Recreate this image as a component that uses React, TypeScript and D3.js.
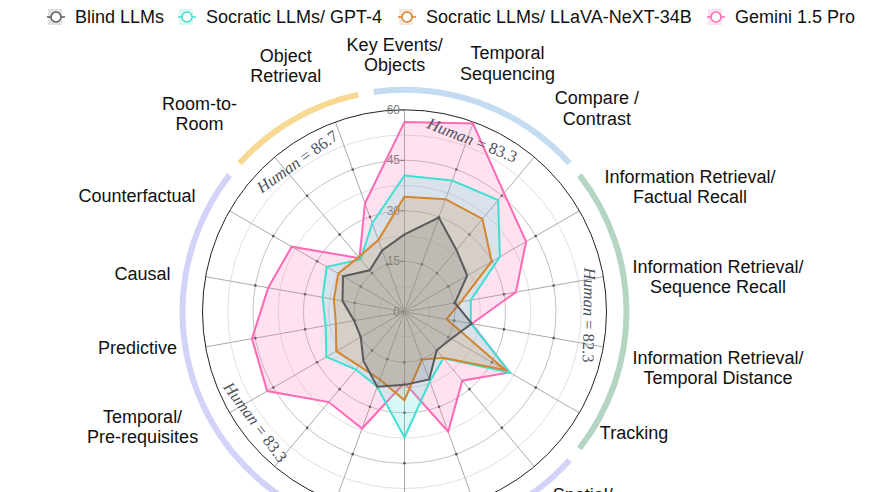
import React from 'react';
import * as d3 from 'd3';

// ---------- data ----------
const categories: string[] = [
  'Key Events/\nObjects',
  'Temporal\nSequencing',
  'Compare /\nContrast',
  'Information Retrieval/\nFactual Recall',
  'Information Retrieval/\nSequence Recall',
  'Information Retrieval/\nTemporal Distance',
  'Tracking',
  'Spatial/\nRelationship',
  'Spatial/\nProximity',
  'Spatial/\nLayout',
  'Temporal/\nDuration',
  'Temporal/\nFrequency',
  'Temporal/\nPre-requisites',
  'Predictive',
  'Causal',
  'Counterfactual',
  'Room-to-\nRoom',
  'Object\nRetrieval',
];

const seriesNames = ['Blind LLMs', 'Socratic LLMs/ GPT-4', 'Socratic LLMs/ LLaVA-NeXT-34B', 'Gemini 1.5 Pro'];

const blindLLMs = [23, 29.8, 24, 21.5, 15.2, 20.3, 16, 14.9, 21.4, 21.7, 23.7, 19, 15, 15.2, 18.7, 21.1, 16.1, 19.4];
const socraticGPT4 = [40.5, 41.5, 43.3, 32.7, 20.0, 20.0, 36.2, 18.0, 22, 37.3, 23.7, 22.4, 26.8, 23.8, 24.7, 26.7, 20.3, 28];
const socraticLLaVA = [34.2, 35.6, 36.0, 29.9, 17, 12.7, 34.5, 17.8, 15.1, 26.3, 21.4, 21, 23.4, 20.7, 21.3, 22.7, 21.2, 22.7];
const gemini15Pro = [56.4, 59.5, 46, 41.7, 33.6, 20.3, 36.0, 26.7, 37.9, 21.1, 36.9, 35.0, 47.1, 46.0, 41.1, 38.7, 20.8, 34.3];

const radialTicks = [0, 15, 30, 45, 60];
const gridLevels = [7.5, 15, 22.5, 30, 37.5, 45, 52.5];

// task groups (first / last category index) with human scores
const groupFirst = [0, 3, 7, 16];
const groupLast = [2, 6, 15, 17];
const humanScores = ['83.3', '82.3', '83.3', '86.7'];

// ---------- layout / style ----------
const W = 870;
const H = 492;
const cx = 404.5;
const cy = 311.8;
const R = 202;

const seriesColors = ['#5a5a5a', '#40e0d0', '#d2862e', '#ff69b4'];
const seriesFills = ['#696969', '#40e0d0', '#cd853f', '#ff69b4'];
const groupColors = ['#c4dcf2', '#b3d5c2', '#d3d3fa', '#f8d994'];
const humanTextAngle = [21.5, 91, 233.5, 324.5];
const legendX = [56, 187, 407, 716];

// label centre placement [angle deg, radius px]
const labelPlacement: [number, number][] = [
  [-2.2, 257], [22.5, 269], [43.4, 280], [66.4, 311.6], [83.7, 315.4], [100.2, 318.5],
  [117.8, 259.5], [137.3, 263], [160, 265], [180, 265], [200, 265], [220, 265],
  [246.3, 286], [262.3, 269.4], [278.2, 264.7], [293.4, 291.5], [314, 285], [334.2, 273],
];

const FONT = 'Liberation Sans, Arial, sans-serif';

function polar(angleDeg: number, r: number): [number, number] {
  const a = (angleDeg * Math.PI) / 180;
  return [cx + r * Math.sin(a), cy - r * Math.cos(a)];
}

export default function App() {
  const n = categories.length;
  const step = 360 / n;
  const rScale = d3.scaleLinear().domain([0, 60]).range([0, R]);
  const allSeries = [blindLLMs, socraticGPT4, socraticLLaVA, gemini15Pro];

  const radial = d3
    .lineRadial<number>()
    .angle((_d, i) => (i * 2 * Math.PI) / n)
    .radius((d) => rScale(d))
    .curve(d3.curveLinearClosed);

  const arcGen = d3.arc<any>();

  const drawOrder = [3, 1, 2, 0];

  return (
    <svg
      width={W}
      height={H}
      style={{ position: 'absolute', left: 0, top: 0, background: '#fff' }}
      fontFamily={FONT}
    >
      {/* grid rings */}
      {gridLevels.map((v) => (
        <circle
          key={'ring' + v}
          cx={cx}
          cy={cy}
          r={rScale(v)}
          fill="none"
          stroke={v % 15 === 0 ? '#c2c2c2' : '#e0e0e0'}
          strokeWidth={1}
        />
      ))}
      {/* spokes */}
      {categories.map((_c, i) => {
        const [x, y] = polar(i * step, R);
        return <line key={'sp' + i} x1={cx} y1={cy} x2={x} y2={y} stroke="#aaaaaa" strokeWidth={1} />;
      })}
      {/* spoke dots */}
      {categories.map((_c, i) =>
        i === 0
          ? null
          : [15, 30, 45].map((v) => {
              const [x, y] = polar(i * step, rScale(v));
              return <circle key={'dot' + i + '-' + v} cx={x} cy={y} r={1.3} fill="#555" />;
            })
      )}
      {/* outer circle */}
      <circle cx={cx} cy={cy} r={R} fill="none" stroke="#222" strokeWidth={1} />
      {/* radial tick labels */}
      {radialTicks.map((t) => (
        <g key={'tk' + t}>
          <line x1={cx - 4} x2={cx} y1={cy - rScale(t)} y2={cy - rScale(t)} stroke="#666" strokeWidth={1} />
          <text
            x={cx - 4.5}
            y={cy - rScale(t)}
            textAnchor="end"
            dominantBaseline="central"
            fontSize={12}
            fill="#777"
          >
            {t}
          </text>
        </g>
      ))}
      {/* series polygons */}
      {drawOrder.map((s) => (
        <path
          key={'poly' + s}
          d={radial(allSeries[s]) || ''}
          transform={`translate(${cx},${cy})`}
          fill={seriesFills[s]}
          fillOpacity={0.2}
          stroke={seriesColors[s]}
          strokeWidth={2}
          strokeLinejoin="miter"
        />
      ))}
      {/* group arcs */}
      {groupFirst.map((f, g) => {
        const a0 = ((f * step - step / 2 + 2) * Math.PI) / 180;
        const a1 = ((groupLast[g] * step + step / 2 - 2) * Math.PI) / 180;
        const d = arcGen({ innerRadius: 219, outerRadius: 225, startAngle: a0, endAngle: a1 }) as string;
        return <path key={'arc' + g} d={d} transform={`translate(${cx},${cy})`} fill={groupColors[g]} />;
      })}
      {/* human scores */}
      {humanScores.map((h, g) => {
        const ang = humanTextAngle[g];
        const [x, y] = polar(ang, 185);
        let rot = ((ang + 180) % 360) - 180;
        if (rot > 100) rot -= 180;
        if (rot < -100) rot += 180;
        return (
          <text
            key={'hum' + g}
            x={x}
            y={y}
            transform={`rotate(${rot},${x},${y})`}
            textAnchor="middle"
            dominantBaseline="central"
            fontFamily="Liberation Serif, Times New Roman, serif"
            fontSize={16.5}
            fill="#4e525c"
          >
            <tspan fontStyle="italic">Human</tspan>
            <tspan> = {h}</tspan>
          </text>
        );
      })}
      {/* category labels */}
      {categories.map((c, i) => {
        const [ang, rr] = labelPlacement[i];
        const [x, y] = polar(ang, rr);
        const lines = c.split('\n');
        return (
          <text key={'lab' + i} x={x} y={y} textAnchor="middle" fontSize={18} fill="#111">
            {lines.map((ln, k) => (
              <tspan key={k} x={x} y={y + (k - (lines.length - 1) / 2) * 20.5} dominantBaseline="central">
                {ln}
              </tspan>
            ))}
          </text>
        );
      })}
      {/* legend */}
      {seriesNames.map((nm, s) => {
        const mx = legendX[s];
        const my = 17;
        return (
          <g key={'leg' + s}>
            <rect x={mx - 8} y={my - 8} width={14} height={16} fill={seriesFills[s]} fillOpacity={0.2} />
            <line x1={mx - 9} x2={mx + 9} y1={my} y2={my} stroke={seriesColors[s]} strokeWidth={1.5} />
            <circle cx={mx} cy={my} r={5} fill="#fff" stroke={seriesColors[s]} strokeWidth={1.5} />
            <text x={mx + 19} y={my} dominantBaseline="central" fontSize={18} fill="#111">
              {nm}
            </text>
          </g>
        );
      })}
    </svg>
  );
}
